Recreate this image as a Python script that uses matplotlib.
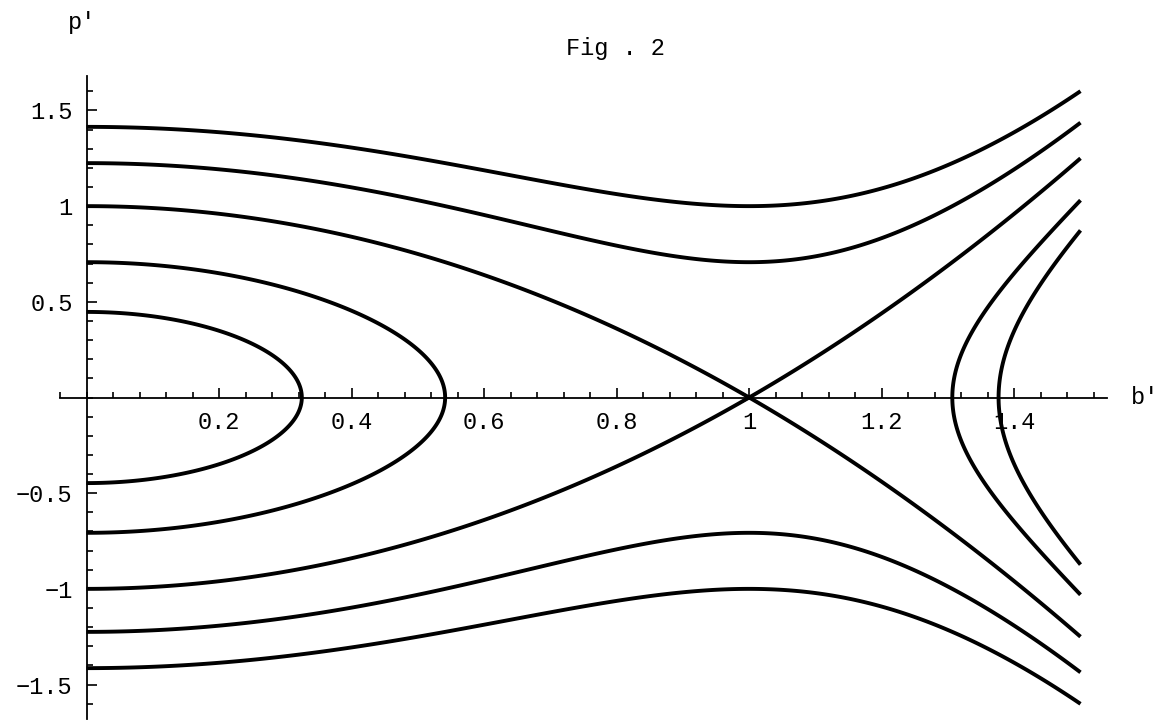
import numpy as np
import matplotlib
matplotlib.use("Agg")
import matplotlib.pyplot as plt
from matplotlib.ticker import MultipleLocator, FixedLocator

# contour levels of H(b', p') (p' at b'=0 gives sqrt(level))
levels = [0.2, 0.5, 1.0, 1.5, 2.0]
b_range = (0.0, 1.5)
p_range = (-1.66, 1.66)
xticks = [0.2, 0.4, 0.6, 0.8, 1.0, 1.2, 1.4]
xticklabels = ["0.2", "0.4", "0.6", "0.8", "1", "1.2", "1.4"]
yticks = [-1.5, -1.0, -0.5, 0.5, 1.0, 1.5]
yticklabels = ["\u22121.5", "\u22121", "\u22120.5", "0.5", "1", "1.5"]


def hamiltonian(b, p):
    return p ** 2 + 2 * b ** 2 - b ** 4


b = np.linspace(*b_range, 600)
p = np.linspace(*p_range, 600)
B, P = np.meshgrid(b, p)
H = hamiltonian(B, P)

W, Hpx = 1167, 722
fig = plt.figure(figsize=(W / 100, Hpx / 100), dpi=100)
ax = fig.add_axes([60 / W, 3 / Hpx, 1047 / W, 643 / Hpx])
ax.set_xlim(-0.04, 1.54)
ax.set_ylim(-1.68, 1.68)

ax.contour(B, P, H, levels=levels, colors="black", linewidths=2.8)

for s in ("top", "right"):
    ax.spines[s].set_visible(False)
ax.spines["left"].set_position(("data", 0))
ax.spines["bottom"].set_position(("data", 0))
ax.spines["left"].set_linewidth(1.3)
ax.spines["bottom"].set_linewidth(1.3)

font = "Liberation Mono"
ax.xaxis.set_major_locator(FixedLocator(xticks))
ax.set_xticklabels(xticklabels, fontfamily=font, fontsize=17)
ax.xaxis.set_minor_locator(MultipleLocator(0.04))
ax.yaxis.set_major_locator(FixedLocator(yticks))
ax.set_yticklabels(yticklabels, fontfamily=font, fontsize=17)
ax.yaxis.set_minor_locator(MultipleLocator(0.1))
ax.tick_params(which="both", direction="in", width=1.2)
ax.tick_params(which="major", length=7, pad=10)
ax.tick_params(which="minor", length=4)

fig.text(82 / W, 1 - 22 / Hpx, "p'", fontfamily=font, fontsize=17, ha="center", va="center")
fig.text(615 / W, 1 - 48 / Hpx, "Fig . 2", fontfamily=font, fontsize=17, ha="center", va="center")
fig.text(1145 / W, 1 - 398 / Hpx, "b'", fontfamily=font, fontsize=17, ha="center", va="center")

fig.savefig("out.png", dpi=100)
